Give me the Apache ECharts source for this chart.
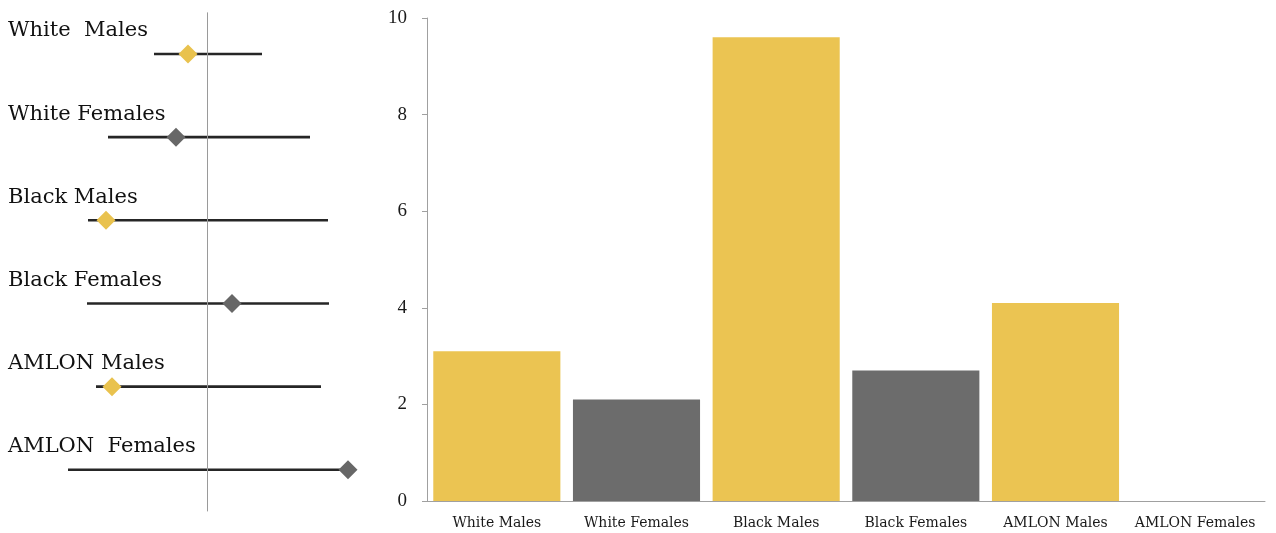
<!DOCTYPE html>
<html><head><meta charset="utf-8">
<script src="https://cdn.jsdelivr.net/npm/echarts@6/dist/echarts.min.js"></script>
<style>html,body{margin:0;padding:0;background:#fff}#c{width:1276px;height:533px}</style>
</head><body><div id="c"></div>
<script>
const categories = ['White Males','White Females','Black Males','Black Females','AMLON Males','AMLON Females'];
const forestLabels = ['White  Males','White Females','Black Males','Black Females','AMLON Males','AMLON  Females'];
const ciLow = [-0.53,-0.99,-1.19,-1.20,-1.11,-1.39];
const ciHigh = [0.55,1.03,1.21,1.22,1.14,1.40];
const pointEst = [-0.19,-0.31,-1.01,0.25,-0.95,1.41];
const barValues = [3.1,2.1,9.6,2.7,4.1,0];
const yTicks = [0,2,4,6,8,10];

const YELLOW = '#ebc452', GRAY = '#6c6c6c';
const colorOf = i => (i % 2 === 0 ? YELLOW : GRAY);

const chart = echarts.init(document.getElementById('c'));
chart.setOption({
  animation:false,
  backgroundColor:'#fff',
  grid:[
    {left:7, top:12.4, width:400, height:499},
    {left:427, right:11, top:18, bottom:32}
  ],
  xAxis:[
    {gridIndex:0, type:'value', min:-2, max:2, show:false},
    {gridIndex:1, type:'category', data:categories,
      axisLine:{lineStyle:{color:'#a0a0a0', width:1}},
      axisTick:{length:5, lineStyle:{color:'#a0a0a0'}},
      axisLabel:{fontFamily:'DejaVu Serif', fontSize:14, color:'#1a1a1a', margin:15, interval:0}}
  ],
  yAxis:[
    {gridIndex:0, type:'value', min:0, max:6, inverse:true, show:false},
    {gridIndex:1, type:'value', min:yTicks[0], max:yTicks[yTicks.length-1], interval:2,
      axisLine:{show:true, lineStyle:{color:'#a0a0a0', width:1}},
      axisTick:{show:true, length:5, lineStyle:{color:'#a0a0a0'}},
      splitLine:{show:false},
      axisLabel:{fontFamily:'Liberation Serif', fontSize:19, color:'#1a1a1a', margin:20}}
  ],
  series:[
    {
      type:'custom', xAxisIndex:0, yAxisIndex:0, z:3,
      data: categories.map((c,i)=>[i+0.5, ciLow[i], ciHigh[i]]),
      renderItem:(params, api)=>{
        const y = api.value(0);
        const p1 = api.coord([api.value(1), y]);
        const p2 = api.coord([api.value(2), y]);
        return {type:'line', shape:{x1:p1[0], y1:p1[1], x2:p2[0], y2:p2[1]},
          style:{stroke:'#262626', lineWidth:2.6}};
      },
      silent:true
    },
    {
      type:'scatter', xAxisIndex:0, yAxisIndex:0, z:4,
      symbol:'diamond', symbolSize:[19,19],
      itemStyle:{opacity:1},
      data: pointEst.map((v,i)=>({value:[v, i+0.5], itemStyle:{opacity:1, color: i%2===0 ? '#e9c24e' : '#676767'}})),
      silent:true
    },
    {
      type:'scatter', xAxisIndex:0, yAxisIndex:0, z:2,
      symbolSize:0, itemStyle:{opacity:1},
      data: forestLabels.map((t,i)=>({value:[-1.99, i+0.5], name:t})),
      label:{show:true, position:'right', distance:0, offset:[0,-23], opacity:1,
        formatter:p=>p.name, fontFamily:'DejaVu Serif', fontSize:21, color:'#111'},
      markLine:{silent:true, symbol:'none', label:{show:false},
        lineStyle:{color:'#9a9a9a', width:1, type:'solid', opacity:1},
        data:[{xAxis:0}]},
      silent:true
    },
    {
      type:'bar', xAxisIndex:1, yAxisIndex:1,
      barCategoryGap:'9%',
      data: barValues.map((v,i)=>({value:v, itemStyle:{color:colorOf(i)}})),
      silent:true
    }
  ]
});
</script></body></html>
